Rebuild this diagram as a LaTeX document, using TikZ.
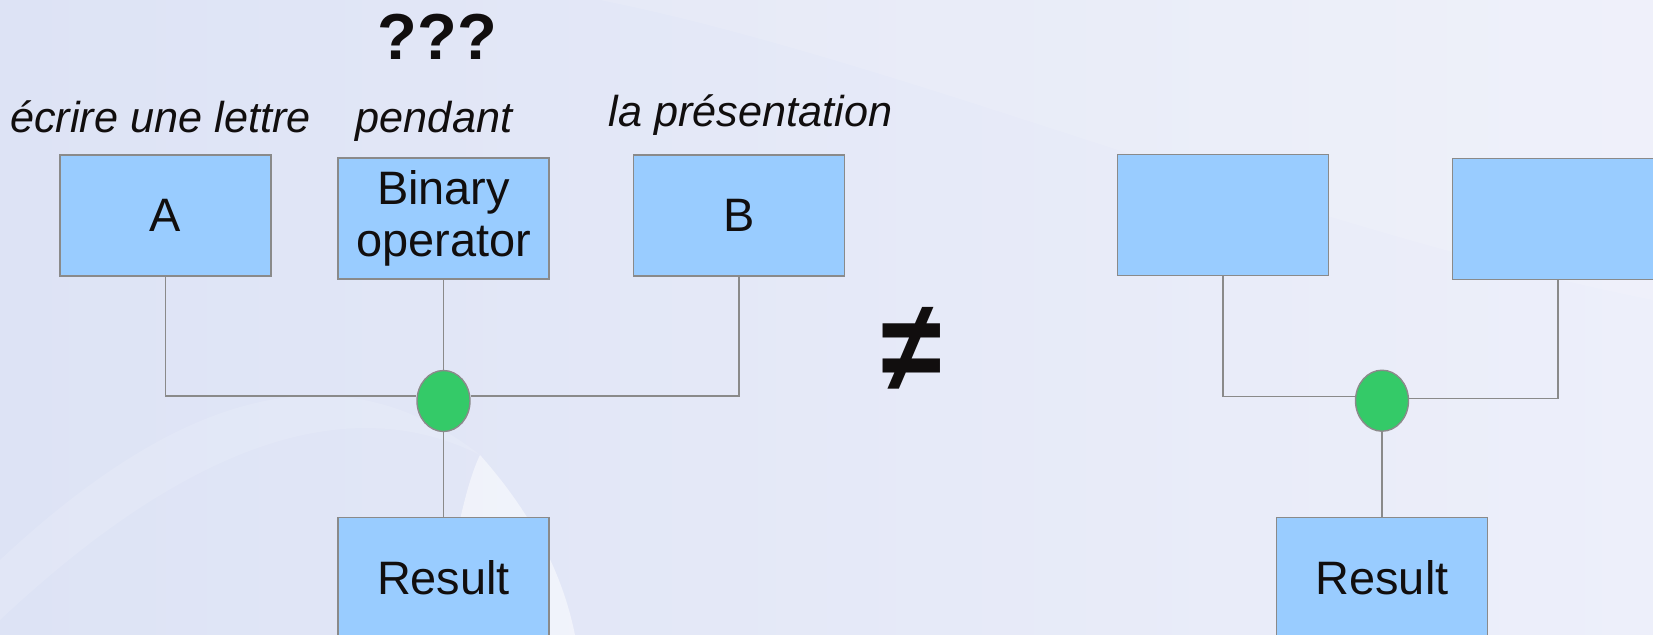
\documentclass[tikz,border=0pt]{standalone}
\usepackage{fontspec}
\setmainfont{Liberation Sans}
\usetikzlibrary{shapes.geometric}
\definecolor{boxblue}{RGB}{153,204,255}
\definecolor{joingreen}{RGB}{52,202,104}
\definecolor{edgegray}{RGB}{138,138,138}
\definecolor{bgleft}{RGB}{221,227,245}
\definecolor{bgright}{RGB}{237,239,250}
\definecolor{ink}{RGB}{17,14,14}

\begin{document}
\begin{tikzpicture}[x=0.02cm, y=-0.02cm,
	box/.style={rectangle, draw=edgegray, line width=0.8pt, fill=boxblue, minimum width=4.22cm, minimum height=2.42cm, inner sep=0pt, text=ink, align=center, font=\fontsize{26.7}{30}\selectfont},
	junction/.style={ellipse, draw=edgegray, line width=0.8pt, fill=joingreen, minimum width=1.06cm, minimum height=1.22cm, inner sep=0pt},
	wire/.style={draw=edgegray, line width=0.75pt},
	lbl/.style={anchor=base, inner sep=0pt, text=ink, font=\fontsize{24.6}{28}\selectfont\itshape}]
	\useasboundingbox (0,0) rectangle (1653,635);
	\clip (0,0) rectangle (1653,635);
	\shade[left color=bgleft, right color=bgright] (0,0) rectangle (1653,635);
	\fill[white, opacity=0.12] (0,560) .. controls (150,420) and (320,330) .. (480,455) .. controls (330,380) and (160,470) .. (0,620) -- cycle;
	\fill[white, opacity=0.5] (440,635) .. controls (455,530) and (468,480) .. (480,455) .. controls (520,500) and (560,560) .. (575,635) -- cycle;
	\fill[white, opacity=0.12] (600,0) .. controls (900,60) and (1300,230) .. (1653,300) -- (1653,0) -- cycle;
	% left diagram
	\node[box] (A)   at (165.5,215.5) {A};
	\node[box] (bin) at (443.5,218.5) {Binary\\operator};
	\node[box] (B)   at (739,215.5)   {B};
	\node[junction] (op) at (443.5,401) {};
	\node[box] (res) at (443.5,578)   {Result};
	\node[lbl] (lA)   at (160.5,132.7) {écrire une lettre};
	\node[lbl] (lbin) at (434,132.7)   {pendant};
	\node[lbl] (lB)   at (750.5,126.7) {la présentation};
	\node[anchor=base, inner sep=0pt, text=ink, font=\fontsize{37}{40}\selectfont\bfseries] (qq) at (437.5,60) {???};
	\draw[wire] (A.south) |- ([yshift=2.8pt]op.west);
	\draw[wire] (B.south) |- ([yshift=2.8pt]op.east);
	\draw[wire] (bin.south) -- (op.north);
	\draw[wire] (op.south) -- (res.north);
	% not equal
	\node[inner sep=0pt, text=ink, font=\fontsize{57}{60}\selectfont\bfseries] (neq) at (912,349) {\scalebox{1.1}[1.3]{≠}};
	% right diagram
	\node[box] (rA)   at (1223,215) {};
	\node[box] (rB)   at (1558,219) {};
	\node[junction] (rop) at (1382,400.7) {};
	\node[box] (rres) at (1382,578) {Result};
	\draw[wire] (rA.south) |- ([yshift=2.5pt]rop.west);
	\draw[wire] (rB.south) |- ([yshift=1.4pt]rop.east);
	\draw[wire] (rop.south) -- (rres.north);
\end{tikzpicture}
\end{document}
